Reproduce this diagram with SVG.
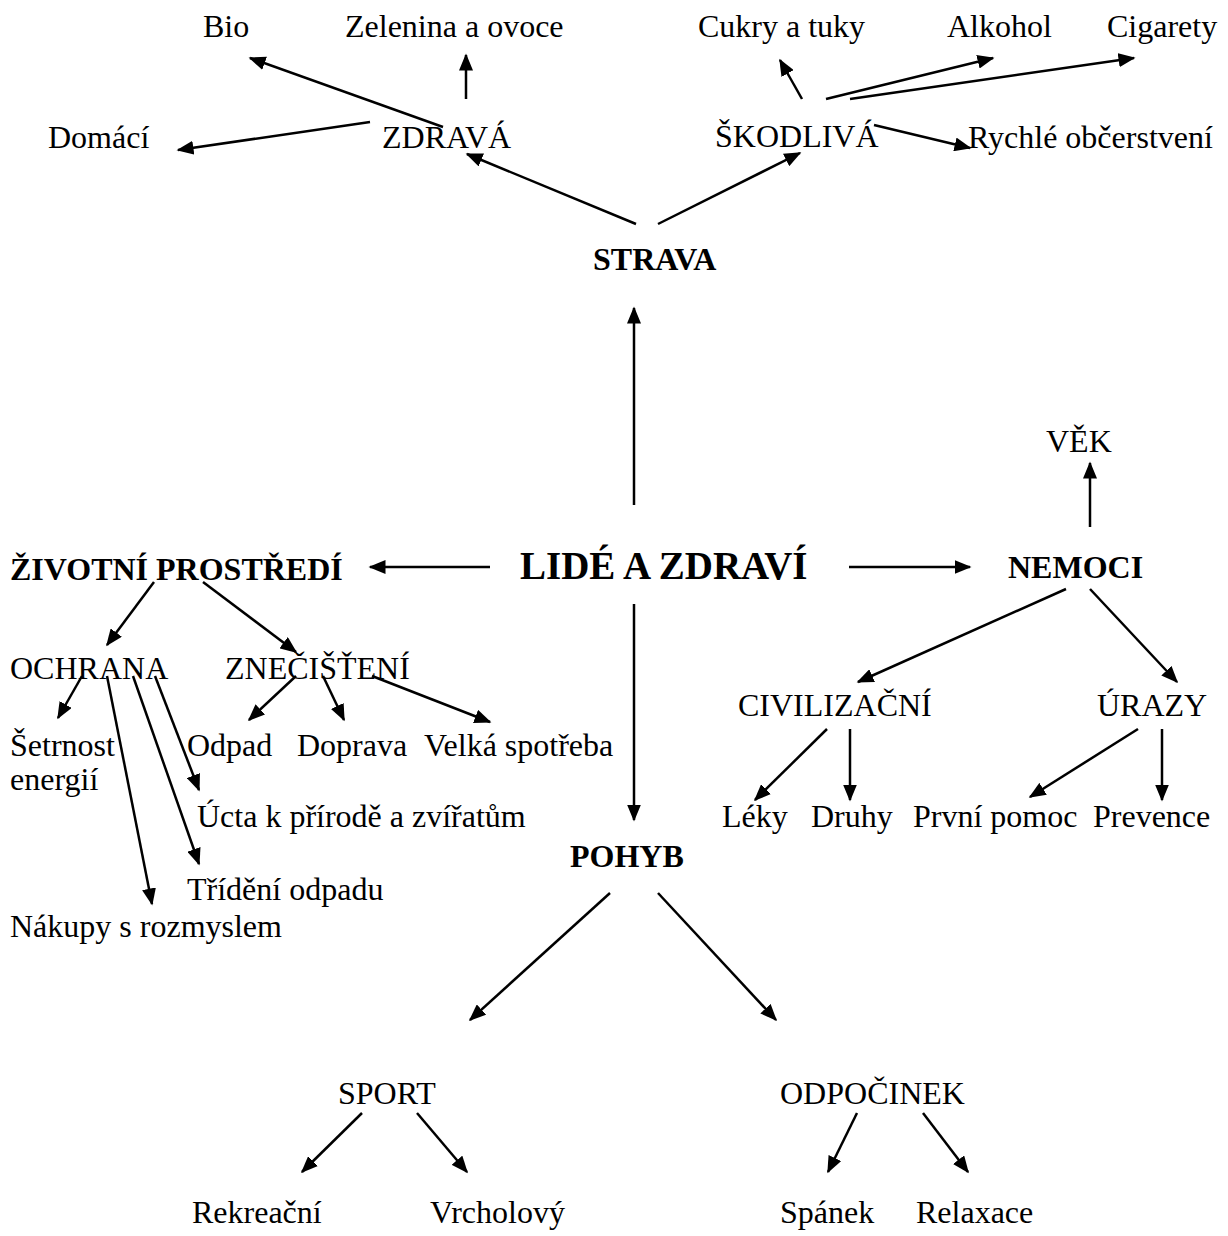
<svg xmlns="http://www.w3.org/2000/svg" width="1228" height="1236" viewBox="0 0 1228 1236">
<style>
text{font-family:"Liberation Serif","Times New Roman",serif;font-size:32px;fill:#000}
.b{font-weight:bold}
.c line{stroke:#000;stroke-width:2.5;marker-end:url(#ah)}
</style>
<defs>
<marker id="ah" markerUnits="userSpaceOnUse" markerWidth="18" markerHeight="14" refX="15.5" refY="7" orient="auto">
<path d="M0,0 L17,7 L0,14 z" fill="#000"/>
</marker>
</defs>
<rect width="1228" height="1236" fill="#fff"/>
<g class="c" id="connectors">
<line x1="443" y1="127" x2="250" y2="58"/>
<line x1="466" y1="99" x2="466" y2="55"/>
<line x1="370" y1="122" x2="178" y2="150"/>
<line x1="636" y1="224" x2="467" y2="154"/>
<line x1="658" y1="224" x2="800" y2="153"/>
<line x1="802" y1="99" x2="780" y2="60"/>
<line x1="826" y1="99" x2="993" y2="58"/>
<line x1="850" y1="99" x2="1134" y2="58"/>
<line x1="874" y1="125" x2="970" y2="148"/>
<line x1="634" y1="505" x2="634" y2="308"/>
<line x1="490" y1="567" x2="370" y2="567"/>
<line x1="849" y1="567" x2="970" y2="567"/>
<line x1="634" y1="604" x2="634" y2="820"/>
<line x1="1090" y1="527" x2="1090" y2="463"/>
<line x1="1066" y1="589" x2="858" y2="682"/>
<line x1="1090" y1="589" x2="1177" y2="682"/>
<line x1="827" y1="729" x2="755" y2="800"/>
<line x1="850" y1="729" x2="850" y2="800"/>
<line x1="1138" y1="729" x2="1030" y2="797"/>
<line x1="1162" y1="729" x2="1162" y2="800"/>
<line x1="154" y1="582" x2="107" y2="645"/>
<line x1="203" y1="582" x2="296" y2="652"/>
<line x1="82" y1="676" x2="58" y2="718"/>
<line x1="155" y1="676" x2="199" y2="790"/>
<line x1="133" y1="676" x2="199" y2="864"/>
<line x1="107" y1="676" x2="152" y2="904"/>
<line x1="296" y1="676" x2="249" y2="720"/>
<line x1="323" y1="676" x2="344" y2="720"/>
<line x1="372" y1="676" x2="490" y2="722"/>
<line x1="610" y1="893" x2="470" y2="1020"/>
<line x1="658" y1="893" x2="776" y2="1020"/>
<line x1="362" y1="1113" x2="302" y2="1172"/>
<line x1="417" y1="1113" x2="467" y2="1172"/>
<line x1="857" y1="1113" x2="828" y2="1172"/>
<line x1="923" y1="1113" x2="968" y2="1172"/>
</g>
<g id="n-bio"><text x="203" y="37">Bio</text></g>
<g id="n-zelenina"><text x="345" y="37">Zelenina a ovoce</text></g>
<g id="n-cukry"><text x="698" y="37">Cukry a tuky</text></g>
<g id="n-alkohol"><text x="947" y="37">Alkohol</text></g>
<g id="n-cigarety"><text x="1107" y="37">Cigarety</text></g>
<g id="n-domaci"><text x="48" y="148">Domácí</text></g>
<g id="n-zdrava"><text x="382" y="148">ZDRAVÁ</text></g>
<g id="n-skodliva"><text x="715" y="147">ŠKODLIVÁ</text></g>
<g id="n-rychle"><text x="968" y="148">Rychlé občerstvení</text></g>
<g id="n-strava"><text class="b" x="593" y="270">STRAVA</text></g>
<g id="n-vek"><text x="1046" y="452">VĚK</text></g>
<g id="n-zp"><text class="b" x="10" y="580">ŽIVOTNÍ PROSTŘEDÍ</text></g>
<g id="n-lide"><text class="b" x="520" y="579" style="font-size:39px">LIDÉ A ZDRAVÍ</text></g>
<g id="n-nemoci"><text class="b" x="1008" y="578">NEMOCI</text></g>
<g id="n-ochrana"><text x="10" y="679">OCHRANA</text></g>
<g id="n-znecisteni"><text x="225" y="679">ZNEČIŠŤENÍ</text></g>
<g id="n-civilizacni"><text x="738" y="716">CIVILIZAČNÍ</text></g>
<g id="n-urazy"><text x="1097" y="716">ÚRAZY</text></g>
<g id="n-setrnost"><text x="10" y="756">Šetrnost</text><text x="10" y="790">energií</text></g>
<g id="n-odpad"><text x="187" y="756">Odpad</text></g>
<g id="n-doprava"><text x="297" y="756">Doprava</text></g>
<g id="n-velka"><text x="424" y="756">Velká spotřeba</text></g>
<g id="n-ucta"><text x="197" y="827">Úcta k přírodě a zvířatům</text></g>
<g id="n-leky"><text x="722" y="827">Léky</text></g>
<g id="n-druhy"><text x="811" y="827">Druhy</text></g>
<g id="n-prvni"><text x="913" y="827">První pomoc</text></g>
<g id="n-prevence"><text x="1093" y="827">Prevence</text></g>
<g id="n-pohyb"><text class="b" x="570" y="867">POHYB</text></g>
<g id="n-trideni"><text x="187" y="900">Třídění odpadu</text></g>
<g id="n-nakupy"><text x="10" y="937">Nákupy s rozmyslem</text></g>
<g id="n-sport"><text x="338" y="1104">SPORT</text></g>
<g id="n-odpocinek"><text x="780" y="1104">ODPOČINEK</text></g>
<g id="n-rekreacni"><text x="192" y="1223">Rekreační</text></g>
<g id="n-vrcholovy"><text x="430" y="1223">Vrcholový</text></g>
<g id="n-spanek"><text x="780" y="1223">Spánek</text></g>
<g id="n-relaxace"><text x="916" y="1223">Relaxace</text></g>
</svg>
